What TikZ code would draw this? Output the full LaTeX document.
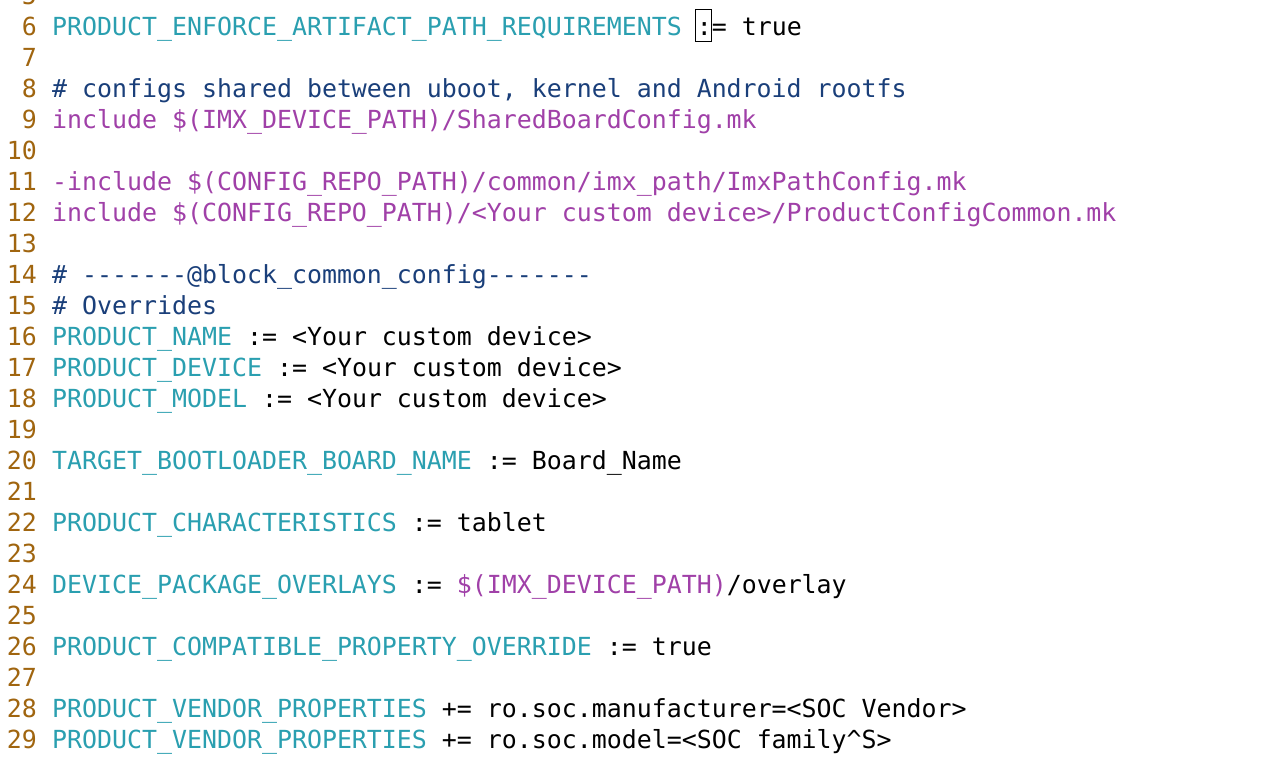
\documentclass[tikz,border=0pt]{standalone}
\usepackage{fontspec}
\setmonofont{DejaVu Sans Mono}
\definecolor{lnum}{HTML}{A0650F}
\definecolor{ident}{HTML}{2A9FB0}
\definecolor{incl}{HTML}{A040A8}
\definecolor{cmt}{HTML}{1A3F7A}
\newcommand\cI[1]{\textcolor{ident}{#1}}
\newcommand\cP[1]{\textcolor{incl}{#1}}
\newcommand\cC[1]{\textcolor{cmt}{#1}}
\newcommand\codeline[2]{\node[code] (l#1) at (52,{35+(#1-6)*31}) {#2};}
\begin{document}
\begin{tikzpicture}[x=1pt,y=-1pt,
  code/.style={anchor=base west,inner sep=0pt,font=\fontsize{24.9}{30}\ttfamily},
  num/.style={anchor=base east,inner sep=0pt,font=\fontsize{24.9}{30}\ttfamily,text=lnum}]
\useasboundingbox (0,0) rectangle (1261,758);
\clip (0,0) rectangle (1261,758);
\fill[white] (0,0) rectangle (1261,758);
\foreach \n in {5,...,29}{
  \node[num] (n\n) at (37,{35+(\n-6)*31}) {\n};
}
\codeline{6}{\cI{PRODUCT\_ENFORCE\_ARTIFACT\_PATH\_REQUIREMENTS} := true}
\codeline{8}{\cC{\# configs shared between uboot, kernel and Android rootfs}}
\codeline{9}{\cP{include \$(IMX\_DEVICE\_PATH)/SharedBoardConfig.mk}}
\codeline{11}{\cP{-include \$(CONFIG\_REPO\_PATH)/common/imx\_path/ImxPathConfig.mk}}
\codeline{12}{\cP{include \$(CONFIG\_REPO\_PATH)/\textless Your custom device\textgreater/ProductConfigCommon.mk}}
\codeline{14}{\cC{\# -------@block\_common\_config-------}}
\codeline{15}{\cC{\# Overrides}}
\codeline{16}{\cI{PRODUCT\_NAME} := \textless Your custom device\textgreater}
\codeline{17}{\cI{PRODUCT\_DEVICE} := \textless Your custom device\textgreater}
\codeline{18}{\cI{PRODUCT\_MODEL} := \textless Your custom device\textgreater}
\codeline{20}{\cI{TARGET\_BOOTLOADER\_BOARD\_NAME} := Board\_Name}
\codeline{22}{\cI{PRODUCT\_CHARACTERISTICS} := tablet}
\codeline{24}{\cI{DEVICE\_PACKAGE\_OVERLAYS} := \cP{\$(IMX\_DEVICE\_PATH)}/overlay}
\codeline{26}{\cI{PRODUCT\_COMPATIBLE\_PROPERTY\_OVERRIDE} := true}
\codeline{28}{\cI{PRODUCT\_VENDOR\_PROPERTIES} += ro.soc.manufacturer=\textless SOC Vendor\textgreater}
\codeline{29}{\cI{PRODUCT\_VENDOR\_PROPERTIES} += ro.soc.model=\textless SOC family\textasciicircum S\textgreater}
\draw[line width=1pt] (695,9) rectangle (711,41);
\end{tikzpicture}
\end{document}
